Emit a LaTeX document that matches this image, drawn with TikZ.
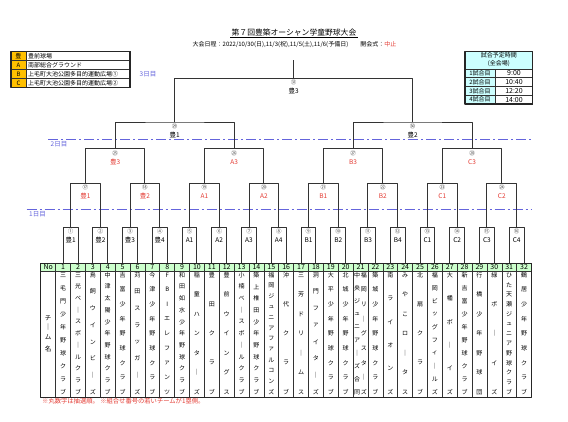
\documentclass[tikz,border=0pt]{standalone}
\usepackage{fontspec}
\setmainfont{Noto Sans CJK JP}
\usetikzlibrary{calc}

\definecolor{venred}{HTML}{E33B33}
\definecolor{dayblue}{HTML}{6464DC}
\definecolor{hdgreen}{HTML}{CCFFCC}
\definecolor{tmcyan}{HTML}{CCFFFF}
\definecolor{legorange}{HTML}{FFC000}

\tikzset{
  tree/.style={draw=black!80, line width=1pt},
  grid/.style={draw=black!80, line width=0.6pt},
  frame/.style={draw=black!85, line width=1.1pt},
  dayline/.style={draw=dayblue, line width=1.4pt, dash pattern=on 10pt off 3pt on 2pt off 3pt},
  daytext/.style={font=\fontsize{6.5}{6.5}\selectfont, text=dayblue, inner sep=0pt},
  num/.style={font=\fontsize{5.5}{5.5}\selectfont, text=black!75, inner sep=0pt},
  venue/.style={font=\fontsize{6.5}{6.5}\selectfont, inner sep=0pt},
  small/.style={font=\fontsize{6}{6}\selectfont, inner sep=0pt},
  teamch/.style={font=\fontsize{6}{6}\selectfont, inner sep=0pt},
}

\makeatletter
\newcommand\teamname[3]{% #1 name, #2 column, #3 characters
  \def\tn@n{0}%
  \@tfor\tn@c:=#3\do{\pgfmathtruncatemacro\tn@n{\tn@n+1}}%
  \def\tn@k{0}%
  \@tfor\tn@c:=#3\do{%
    \pgfmathtruncatemacro\tn@k{\tn@k+1}%
    \node[teamch] (#1-\tn@k) at ({55.7+(#2-0.5)*14.87},{275+(\tn@k-1)*117/(\tn@n-1)}) {\tn@c};}%
}
\makeatother

\begin{document}
\begin{tikzpicture}[x=1pt, y=-1pt, line join=round]
\useasboundingbox (0,0) rectangle (568,421);

% title
\node[font=\fontsize{7.8}{7.8}\selectfont, inner sep=1pt] (title) at (294,32.7) {第７回豊築オーシャン学童野球大会};
\draw[line width=0.5pt] (title.south west) -- (title.south east);
\node[small] (sched) at (294.5,44.7) {大会日程：2022/10/30(日),11/3(祝),11/5(土),11/6(予備日)\quad\quad 開会式：\textcolor{venred}{中止}};

% venues
\foreach \k/\s/\t in {0/豊/豊前球場,1/A/南部総合グラウンド,2/B/上毛町大池公園多目的運動広場①,3/C/上毛町大池公園多目的運動広場②}{
  \draw[grid, fill=legorange] (11,{51.7+8.9*\k}) rectangle (26,{60.6+8.9*\k});
  \draw[grid] (26,{51.7+8.9*\k}) rectangle (130,{60.6+8.9*\k});
  \node[small] (ls\k) at (18.5,{56.15+8.9*\k}) {\s};
  \node[small, anchor=west] (lt\k) at (28,{56.15+8.9*\k}) {\t};
}
\draw[frame] (11,51.7) rectangle (130,87.3);

% times
\draw[grid, fill=tmcyan] (465,51.7) rectangle (532.7,69);
\node[small] (th1) at (498.8,55.5) {試合予定時間};
\node[small] (th2) at (498.8,63.5) {(全会場)};
\foreach \k/\t in {1/9:00,2/10:40,3/12:20,4/14:00}{
  \draw[grid, fill=tmcyan] (465,{69+8.75*(\k-1)}) rectangle (495,{69+8.75*\k});
  \draw[grid] (495,{69+8.75*(\k-1)}) rectangle (532.7,{69+8.75*\k});
  \node[small] (tg\k) at (480,{64.6+8.75*\k}) {\k 試合目};
  \node[font=\fontsize{7}{7}\selectfont, inner sep=0pt] (tt\k) at (514,{64.6+8.75*\k}) {\t};
}
\draw[frame] (465,51.7) rectangle (532.7,104);

% days
\node[daytext] (d3) at (148,74) {3日目};
\draw[dayline] (48,139.3) -- (531.7,139.3);
\node[daytext] (d2) at (59,143.8) {2日目};
\draw[dayline] (26.7,209.3) -- (531.7,209.3);
\node[daytext] (d1) at (37.5,214) {1日目};

% bracket
\foreach \i in {1,...,32} \coordinate (t\i) at ({55.7+(\i-0.5)*14.87},263.3);
\foreach \m in {1,...,16} \coordinate (g\m) at ({55.7+(2*\m-1)*14.87},227.3);
\foreach \m [evaluate=\m as \a using int(2*\m-1), evaluate=\m as \b using int(2*\m)] in {1,...,16}
  \draw[tree] (t\a) |- (g\m) -| (t\b);
\foreach \m/\a/\b/\y in {17/1/2/183.3,18/3/4/183.3,19/5/6/183.3,20/7/8/183.3,21/9/10/183.3,22/11/12/183.3,23/13/14/183.3,24/15/16/183.3,
    25/17/18/148.7,26/19/20/148.7,27/21/22/148.7,28/23/24/148.7,29/25/26/122,30/27/28/122,31/29/30/78.3}{
  \path ($(g\a)!.5!(g\b)$) coordinate (mid\m);
  \coordinate (g\m) at (mid\m |- 0,\y);
  \draw[tree] (g\a) |- (g\m) -| (g\b);
}
\coordinate (top) at (g31 |- 0,60);
\draw[tree] (g31) -- (top);

\foreach \m/\n/\v/\c in {1/①/豊1/black,2/②/豊2/black,3/③/豊3/black,4/④/豊4/black,5/⑤/A1/black,6/⑥/A2/black,7/⑦/A3/black,8/⑧/A4/black,
    9/⑨/B1/black,10/⑩/B2/black,11/⑪/B3/black,12/⑫/B4/black,13/⑬/C1/black,14/⑭/C2/black,15/⑮/C3/black,16/⑯/C4/black,
    17/⑰/豊1/venred,18/⑱/豊2/venred,19/⑲/A1/venred,20/⑳/A2/venred,21/㉑/B1/venred,22/㉒/B2/venred,23/㉓/C1/venred,24/㉔/C2/venred,
    25/㉕/豊3/venred,26/㉖/A3/venred,27/㉗/B3/venred,28/㉘/C3/venred,29/㉙/豊1/black,30/㉚/豊2/black,31/㉛/豊3/black}{
  \node[num] (n\m) at ($(g\m)+(0,4.3)$) {\n};
  \node[venue, text=\c] (v\m) at ($(g\m)+(0,13)$) {\v};
}

% table
\draw[grid, fill=hdgreen] (40.7,263.3) rectangle (531.6,271);
\foreach \i in {0,...,31} \draw[grid] ({55.7+\i*14.87},263.3) -- ({55.7+\i*14.87},397.7);
\draw[frame] (40.7,263.3) rectangle (531.6,397.7);
\node[font=\fontsize{7}{7}\selectfont, inner sep=0pt] (hno) at (48.2,267.3) {No};
\foreach \i in {1,...,32}
  \node[font=\fontsize{7}{7}\selectfont, inner sep=0pt] (h\i) at ({55.7+(\i-0.5)*14.87},267.3) {\i};
\foreach \k/\ch/\y in {1/チ/318,2/｜/327.5,3/ム/337,4/名/349}
  \node[font=\fontsize{6.5}{6.5}\selectfont, inner sep=0pt] (cn\k) at (48.2,\y) {\ch};

\teamname{t1}{1}{三毛門少年野球クラブ}
\teamname{t2}{2}{三光ベ｜スボ｜ルクラブ}
\teamname{t3}{3}{鳥飼ウインビ｜ズ}
\teamname{t4}{4}{中津太陽少年野球クラブ}
\teamname{t5}{5}{吉富少年野球クラブ}
\teamname{t6}{6}{苅田スラッガ｜ズ}
\teamname{t7}{7}{今津少年野球クラブ}
\teamname{t8}{8}{FBIエレファンツ}
\teamname{t9}{9}{和田如水少年野球クラブ}
\teamname{t10}{10}{稲童ハンタ｜ズ}
\teamname{t11}{11}{豊田クラブ}
\teamname{t12}{12}{豊前ウイングス}
\teamname{t13}{13}{小楠ベ｜スボ｜ルクラブ}
\teamname{t14}{14}{築上椎田少年野球クラブ}
\teamname{t15}{15}{福岡ジュニアファルコンズ}
\teamname{t16}{16}{沖代クラブ}
\teamname{t17}{17}{三芳ドリ｜ムス}
\teamname{t18}{18}{洞門ファイタ｜ズ}
\teamname{t19}{19}{大平少年野球クラブ}
\teamname{t20}{20}{北城少年野球クラブ}
\teamname{t21a}{20.77}{中央ジュニア｜ズ合同}
\teamname{t21b}{21.23}{福岡リ｜グスタ｜ズ}
\teamname{t22}{22}{築城少年野球クラブ}
\teamname{t23}{23}{南ライオンズ}
\teamname{t24}{24}{みやこロ｜タス}
\teamname{t25}{25}{北扇クラブ}
\teamname{t26}{26}{福岡ビッグフィ｜ルズ}
\teamname{t27}{27}{大幡ボ｜イズ}
\teamname{t28}{28}{新吉富少年野球クラブ}
\teamname{t29}{29}{行橋少年野球団}
\teamname{t30}{30}{緑ボ｜イズ}
\teamname{t31}{31}{ひた天瀬ジュニア野球クラブ}
\teamname{t32}{32}{鶴居少年野球クラブ}

\node[font=\fontsize{6.3}{6.3}\selectfont, text=venred, anchor=west, inner sep=0pt] (note) at (42,401.5) {※丸数字は抽選順。\ ※組合せ番号の若いチームが1塁側。};
\end{tikzpicture}
\end{document}
